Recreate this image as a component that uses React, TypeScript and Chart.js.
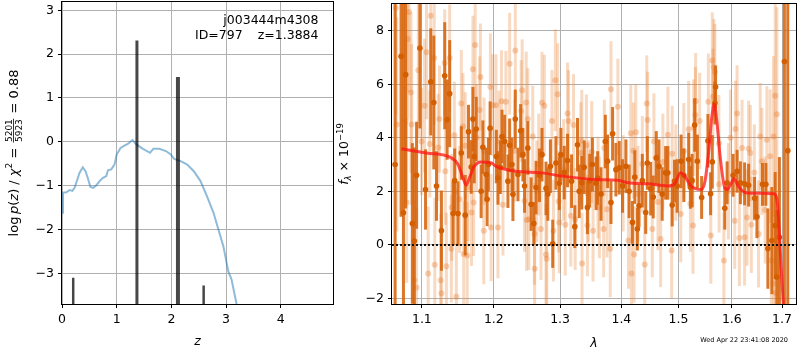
import React, { useEffect, useRef } from "react";
import { Chart, registerables } from "chart.js";
Chart.register(...registerables);

const FONT = "'DejaVu Sans', sans-serif";

// ---------- left panel data ----------
const zGrid = [0, 0.018, 0.08, 0.14, 0.19, 0.23, 0.27, 0.32, 0.38, 0.43, 0.47, 0.52, 0.57, 0.63, 0.69, 0.75, 0.81, 0.84, 0.9, 0.96, 1.0, 1.07, 1.15, 1.21, 1.29, 1.36, 1.48, 1.61, 1.67, 1.78, 1.9, 1.99, 2.05, 2.17, 2.29, 2.41, 2.53, 2.65, 2.77, 2.86, 2.95, 3.04, 3.1, 3.19, 3.25];
const logPz = [-1.62, -1.16, -1.15, -1.1, -1.12, -1.05, -0.9, -0.71, -0.58, -0.67, -0.82, -1.03, -1.05, -0.99, -0.89, -0.82, -0.78, -0.65, -0.63, -0.52, -0.29, -0.14, -0.08, -0.04, 0.04, -0.06, -0.16, -0.25, -0.16, -0.16, -0.21, -0.29, -0.39, -0.44, -0.52, -0.67, -0.89, -1.24, -1.62, -2.0, -2.38, -2.95, -3.14, -3.69, -4.0];
const peakZ = [0.205, 1.37, 2.12, 2.59];
const peakTop = [-3.1, 2.31, 1.48, -3.28];
const peakBase = -10;
const zTicks = [0, 1, 2, 3, 4];
const pzTicks = [-3, -2, -1, 0, 1, 2, 3];
const zRange = [0, 4.955];
const pzRange = [-3.7, 3.19];
const objName = "j003444m4308";
const objId = "ID=797";
const objZ = "z=1.3884";

// ---------- right panel data ----------
const lamTicks = [1.1, 1.2, 1.3, 1.4, 1.5, 1.6, 1.7];
const fluxTicks = [-2, 0, 2, 4, 6, 8];
const lamRange = [1.061, 1.729];
const fluxRange = [-2.21, 9.0];
const zeroLevel = 0;
const stamp = "Wed Apr 22 23:41:08 2020";

const darkLam = [1.065, 1.0727, 1.0758, 1.0787, 1.0874, 1.09, 1.093, 1.0974, 1.1049, 1.1119,
  1.116, 1.1196, 1.1263, 1.1308, 1.1341, 1.1376, 1.1423, 1.1445, 1.1491, 1.1537,
  1.1592, 1.1638, 1.1676, 1.17, 1.1718, 1.1747, 1.1817, 1.1842, 1.1889, 1.1903,
  1.1921, 1.1946, 1.2036, 1.206, 1.2094, 1.2119, 1.2158, 1.2206, 1.2231, 1.2265,
  1.228, 1.2315, 1.2355, 1.2395, 1.2429, 1.2454, 1.2503, 1.2553, 1.2594, 1.2628,
  1.268, 1.2719, 1.2781, 1.2809, 1.2849, 1.2885, 1.2935, 1.2988, 1.3013, 1.3066,
  1.3118, 1.3182, 1.3234, 1.3277, 1.3304, 1.3346, 1.3384, 1.3437, 1.3474, 1.3518,
  1.3579, 1.3605, 1.366, 1.3731, 1.3769, 1.3825, 1.3852, 1.3908, 1.3964, 1.4019,
  1.4077, 1.4132, 1.4188, 1.4229, 1.4273, 1.4302, 1.4359, 1.4418, 1.4446, 1.4505,
  1.455, 1.4603, 1.4651, 1.4708, 1.4769, 1.4809, 1.4887, 1.4928, 1.4976, 1.5048,
  1.5098, 1.5187, 1.5218, 1.525, 1.5297, 1.5347, 1.5426, 1.5544, 1.5594, 1.5626,
  1.5676, 1.5688, 1.5864, 1.5909, 1.6025, 1.6102, 1.6166, 1.6249, 1.6327, 1.6446,
  1.6493, 1.6604, 1.6672, 1.6712, 1.6793, 1.686, 1.6894, 1.6947, 1.7049, 1.7119];
const darkFlux = [3.0, 7.05, 1.2, 6.36, 0.8, 0.14, 2.6, 7.35, 2.07, 6.09,
  5.32, 2.2, 0.53, 6.32, 4.68, 5.65, 1.17, 2.4, 1.17, 3.43,
  1.11, 4.23, 2.91, 4.7, 3.3, 4.33, 2.0, 3.65, 2.63, 1.7,
  3.0, 4.36, 3.3, 2.5, 2.9, 4.05, 3.86, 2.38, 3.72, 3.0,
  1.89, 4.7, 2.63, 4.26, 3.37, 2.2, 3.62, 1.52, 0.8, 2.14,
  2.6, 3.37, 2.11, 1.9, 2.94, 0.04, 3.06, 2.3, 3.37, 2.7,
  3.15, 2.38, 0.68, 3.74, 2.0, 2.32, 2.9, 1.4, 2.4, 3.0,
  2.3, 2.5, 1.9, 3.86, 3.12, 1.58, 4.15, 2.81, 2.88, 2.2,
  2.94, 2.0, 0.84, 2.53, 0.59, 1.46, 2.4, 1.21, 3.06, 2.1,
  1.79, 3.25, 2.94, 1.9, 2.69, 2.69, 1.49, 2.38, 2.2, 3.12,
  2.6, 3.19, 2.15, 2.4, 4.48, 3.12, 1.77, 3.89, 1.91, 3.1,
  5.3, 5.9, 1.37, 2.32, 2.6, 2.75, 2.32, 2.28, 2.23, 1.74,
  1.05, 2.26, 2.26, -0.14, 0.16, 0.72, -1.2, 0.28, 6.85, 3.52];
const darkErr = [12, 6, 9, 5, 3, 3.5, 2, 3, 1.5, 2,
  2.5, 1.3, 1.5, 2, 1.5, 2, 1.2, 1.2, 1.2, 1,
  1.5, 1, 1, 1.2, 1, 1.2, 1, 1, 1, 1,
  1, 1, 1, 1, 1, 1, 1, 1, 1, 1,
  1, 1.1, 1, 1, 1, 1, 1, 1, 0.8, 1,
  1, 1, 1, 1, 1, 0.9, 1, 1, 1, 1,
  1, 1, 0.8, 1, 1, 1, 1, 1, 1, 1,
  1, 1, 1, 1, 1, 0.8, 1, 1, 1, 1,
  1, 1, 0.8, 1, 0.8, 0.8, 1, 0.8, 1, 1,
  0.8, 1, 1, 1, 1, 1, 0.8, 0.8, 1, 1,
  1, 1, 0.8, 1, 1, 1, 0.8, 1, 0.8, 1,
  0.8, 0.8, 0.8, 0.8, 0.8, 0.8, 0.8, 0.8, 0.8, 0.8,
  0.8, 0.8, 0.8, 1.5, 2, 2, 2.5, 3, 12, 10];

const lightLam = [1.0659, 1.0672, 1.0787, 1.08, 1.0813, 1.083, 1.0856, 1.0865, 1.09, 1.093,
  1.0953, 1.0996, 1.1036, 1.1062, 1.1084, 1.1106, 1.1119, 1.1165, 1.1173, 1.1219,
  1.1236, 1.1253, 1.1263, 1.1308, 1.1316, 1.1331, 1.1376, 1.1399, 1.1404, 1.1441,
  1.1454, 1.1468, 1.1513, 1.1537, 1.156, 1.1571, 1.1592, 1.162, 1.163, 1.168,
  1.17, 1.1711, 1.1732, 1.1752, 1.1796, 1.1807, 1.1855, 1.1858, 1.195, 1.196,
  1.1984, 1.2031, 1.206, 1.2075, 1.2111, 1.2133, 1.2176, 1.2231, 1.2306, 1.2315,
  1.2403, 1.2418, 1.2454, 1.2478, 1.2485, 1.2503, 1.2518, 1.2578, 1.2603, 1.2607,
  1.2639, 1.2669, 1.2704, 1.2719, 1.2756, 1.2781, 1.2792, 1.2873, 1.2896, 1.2926,
  1.2962, 1.2977, 1.2988, 1.3056, 1.3082, 1.3118, 1.3134, 1.317, 1.3213, 1.324,
  1.333, 1.3346, 1.335, 1.3421, 1.3437, 1.3453, 1.3507, 1.3529, 1.361, 1.3633,
  1.3703, 1.3714, 1.3759, 1.3813, 1.3825, 1.3941, 1.403, 1.412, 1.416, 1.4171,
  1.4205, 1.4217, 1.4246, 1.4285, 1.4359, 1.4401, 1.4436, 1.445, 1.4533, 1.4562,
  1.4633, 1.468, 1.472, 1.4809, 1.4877, 1.4887, 1.4952, 1.5042, 1.5098, 1.5187,
  1.5218, 1.5266, 1.5279, 1.531, 1.5315, 1.5389, 1.5552, 1.5598, 1.5626, 1.5638,
  1.5657, 1.5675, 1.5751, 1.5755, 1.5846, 1.5934, 1.5973, 1.6056, 1.6069, 1.6102,
  1.6146, 1.6199, 1.6249, 1.6296, 1.6327, 1.6361, 1.6381, 1.644, 1.6525, 1.6558,
  1.6592, 1.6658, 1.6692, 1.6758, 1.678, 1.6826, 1.683, 1.686, 1.6865, 1.6894];
const lightFlux = [8.85, 4.5, 4.63, 1.58, 7.69, 8.7, 5.69, 4.5, -1.32, -1.59,
  6.52, 3.86, 5.2, 7.2, -1.07, 3.77, 8.56, 6.98, -0.74, 3.64,
  4.7, -1.32, -1.81, 6.8, 2.75, -0.8, 6.98, -0.15, 1.4, 4.1,
  1.99, -1.94, 1.7, 5.28, 4.42, -0.35, 3.7, -0.4, 2.14, 1.21,
  6.56, 1.58, 7.47, 4.0, 5.04, 6.27, 0.53, 3.5, 5.9, 0.65,
  5.22, 5.22, 0.65, 3.86, 5.37, 1.5, 5.35, 6.77, 3.52, 7.26,
  5.0, 5.78, 1.64, 5.32, 0.93, 4.7, 0.96, 4.05, 0.41, -0.89,
  2.0, 3.0, 0.59, 5.31, 5.2, -0.36, -0.52, 4.63, 0.53, 6.15,
  5.63, 1.62, 0.84, 2.8, 0.75, 4.91, 4.63, 1.09, 4.48, 0.96,
  3.43, 3.89, -0.7, 3.72, 0.72, 2.0, 3.47, 0.53, 2.14, 1.4,
  0.59, 3.62, 1.33, -0.15, 5.81, 5.16, 2.3, 0.16, 4.17, -1.07,
  3.52, -0.36, 4.21, 1.9, 3.02, -0.73, 5.28, 4.67, 0.59, 3.86,
  1.6, 0.22, 3.1, 4.11, -0.21, 3.4, 2.7, 1.15, 3.5, 4.32,
  1.54, 0.72, 4.38, 4.85, 5.37, 4.63, 5.35, 0.35, 6.89, 5.53,
  6.64, 6.46, 3.8, 2.26, -0.58, 2.0, 4.0, 0.9, 4.33, 4.91,
  0.26, 3.62, 0.28, 1.02, 3.59, 3.43, 0.75, 2.7, 0.41, 4.05,
  3.12, 1.3, 3.93, 3.31, -0.58, 4.05, -1.44, 5.57, -1.79, 4.88];
const lightErr = [4, 4, 3, 3, 3, 3, 3, 3, 3, 3,
  2.5, 2, 2.5, 2.5, 2.5, 2, 2.5, 2.5, 2.5, 2,
  2, 2.5, 2.5, 2, 2, 2, 2, 2, 2, 2,
  2, 2, 2, 2, 2, 2, 2, 2, 2, 2,
  2, 2, 2, 2, 2, 2, 2, 2, 2, 2,
  1.9, 1.9, 1.9, 1.9, 1.9, 1.9, 1.9, 1.9, 1.9, 1.9,
  1.9, 1.9, 1.9, 1.9, 1.9, 1.9, 1.9, 1.9, 1.9, 1.9,
  1.9, 1.9, 1.9, 1.9, 1.9, 1.9, 1.9, 1.9, 1.9, 1.9,
  1.9, 1.9, 1.9, 1.9, 1.9, 1.9, 1.9, 1.9, 1.9, 1.9,
  1.9, 1.9, 1.9, 1.9, 1.9, 1.9, 1.9, 1.9, 1.9, 1.9,
  1.8, 1.8, 1.8, 1.8, 1.8, 1.8, 1.8, 1.8, 1.8, 1.8,
  1.8, 1.8, 1.8, 1.8, 1.8, 1.8, 1.8, 1.8, 1.8, 1.8,
  1.8, 1.8, 1.8, 1.8, 1.8, 1.8, 1.8, 1.8, 1.8, 1.8,
  1.8, 1.8, 1.8, 1.8, 1.8, 1.8, 1.8, 1.8, 1.8, 1.8,
  1.8, 1.8, 1.8, 1.8, 1.8, 1.8, 1.8, 1.8, 1.8, 1.8,
  1.8, 1.8, 1.8, 1.8, 1.8, 1.8, 1.8, 1.8, 2, 2,
  2, 2, 2, 2.5, 2.5, 3, 3, 4, 3, 4];

const modelLam = [1.0732, 1.1058, 1.1399, 1.1491, 1.156, 1.1605, 1.1651, 1.1718, 1.1817, 1.196,
  1.2027, 1.2321, 1.2719, 1.3028, 1.3562, 1.3947, 1.4115, 1.4458, 1.4809, 1.493,
  1.5037, 1.511, 1.523, 1.5414, 1.5489, 1.5571, 1.5614, 1.5664, 1.5713, 1.5778,
  1.5854, 1.5915, 1.5979, 1.6044, 1.6121, 1.6269, 1.6565, 1.6833, 1.69, 1.6947,
  1.6982, 1.7022, 1.706];
const modelFlux = [3.59, 3.43, 3.25, 3.0, 2.5, 2.23, 2.5, 2.93, 3.1, 3.07,
  2.94, 2.75, 2.69, 2.57, 2.44, 2.41, 2.32, 2.28, 2.2, 2.28,
  2.69, 2.57, 2.2, 2.07, 2.38, 3.74, 4.73, 5.25, 4.6, 3.25,
  2.2, 2.07, 2.26, 2.47, 2.2, 1.95, 1.93, 1.91, 1.64, 0.41,
  -0.83, -2.06, -3.2];

// ---------- styles ----------
const stemWidths = [2.5, 3, 4, 2.5];
const GRID = "#b0b0b0";

const fmtNum = (v: number) => (v < 0 ? "\u2212" + Math.abs(v) : String(v));

const errorBars = {
  id: "errorBars",
  beforeDatasetDraw(chart: any, args: any) {
    const ds = chart.data.datasets[args.index];
    if (!ds.errs) return;
    const { ctx, chartArea, scales } = chart;
    ctx.save();
    ctx.beginPath();
    ctx.rect(chartArea.left, chartArea.top, chartArea.width, chartArea.height);
    ctx.clip();
    ctx.strokeStyle = ds.errColor;
    ctx.lineWidth = ds.errWidth;
    ds.data.forEach((p: any, i: number) => {
      const x = scales.x.getPixelForValue(p.x);
      const y1 = scales.y.getPixelForValue(p.y - ds.errs[i]);
      const y2 = scales.y.getPixelForValue(p.y + ds.errs[i]);
      ctx.beginPath();
      ctx.moveTo(x, y1);
      ctx.lineTo(x, y2);
      ctx.stroke();
    });
    ctx.restore();
  },
};

function drawFrame(chart: any) {
  const { ctx, chartArea: a } = chart;
  ctx.save();
  ctx.strokeStyle = "#000";
  ctx.lineWidth = 1;
  ctx.strokeRect(Math.round(a.left) - 0.5, Math.round(a.top) - 0.5, Math.round(a.right - a.left) + 1, Math.round(a.bottom - a.top) + 1);
  ctx.restore();
}

type Seg = { t: string; size: number; italic?: boolean; dy?: number; num?: string; den?: string };
function drawVerticalRich(ctx: CanvasRenderingContext2D, segs: Seg[], baseX: number, centerY: number) {
  const fontOf = (size: number, italic?: boolean) => `${italic ? "italic " : ""}${size}px ${FONT}`;
  const widthOf = (s: Seg) => {
    ctx.font = fontOf(s.size, s.italic);
    if (s.num !== undefined) return Math.max(ctx.measureText(s.num).width, ctx.measureText(s.den!).width) + 3;
    return ctx.measureText(s.t).width;
  };
  ctx.save();
  ctx.translate(baseX, centerY);
  ctx.rotate(-Math.PI / 2);
  ctx.fillStyle = "#000";
  ctx.textBaseline = "alphabetic";
  const total = segs.reduce((a, s) => a + widthOf(s), 0);
  let x = -total / 2;
  for (const s of segs) {
    const w = widthOf(s);
    ctx.font = fontOf(s.size, s.italic);
    if (s.num !== undefined) {
      ctx.textAlign = "center";
      ctx.fillText(s.num, x + w / 2, -5.4);
      ctx.fillText(s.den!, x + w / 2, 4.2);
      ctx.fillRect(x + 1, -4.4, w - 2, 0.8);
      ctx.textAlign = "left";
    } else {
      ctx.textAlign = "left";
      ctx.fillText(s.t, x, s.dy || 0);
    }
    x += w;
  }
  ctx.restore();
}

const leftDecor = {
  id: "leftDecor",
  afterDatasetsDraw(chart: any) {
    drawFrame(chart);
  },
  afterDraw(chart: any) {
    const ctx = chart.ctx as CanvasRenderingContext2D;
    const a = chart.chartArea;
    ctx.save();
    ctx.fillStyle = "#000";
    ctx.font = `12.5px ${FONT}`;
    ctx.textBaseline = "alphabetic";
    ctx.textAlign = "right";
    ctx.fillText(objName, 318.5, 24.2);
    ctx.fillText(objZ, 318.5, 39.3);
    ctx.textAlign = "left";
    ctx.fillText(objId, 195, 39.3);
    ctx.font = `italic 12.5px ${FONT}`;
    ctx.textAlign = "center";
    ctx.fillText("z", (a.left + a.right) / 2, 345);
    ctx.restore();
    drawVerticalRich(ctx, [
      { t: "log\u2009", size: 13 },
      { t: "p", size: 13, italic: true },
      { t: "(", size: 13 },
      { t: "z", size: 13, italic: true },
      { t: ") / ", size: 13 },
      { t: "\u03c7", size: 13, italic: true },
      { t: "2", size: 9, dy: -5.5 },
      { t: " = ", size: 13 },
      { t: "", size: 9, num: "5201", den: "5923" },
      { t: " = 0.88", size: 13 },
    ], 17.5, (a.top + a.bottom) / 2);
  },
};

const rightDecor = {
  id: "rightDecor",
  afterDatasetsDraw(chart: any) {
    const { ctx, chartArea: a, scales } = chart;
    const y = Math.round(scales.y.getPixelForValue(zeroLevel));
    ctx.save();
    ctx.beginPath();
    ctx.rect(a.left, a.top, a.width, a.height);
    ctx.clip();
    ctx.strokeStyle = "#111";
    ctx.lineWidth = 2;
    ctx.setLineDash([2, 2]);
    ctx.beginPath();
    ctx.moveTo(a.left, y);
    ctx.lineTo(a.right, y);
    ctx.stroke();
    ctx.restore();
    drawFrame(chart);
  },
  afterDraw(chart: any) {
    const ctx = chart.ctx as CanvasRenderingContext2D;
    const a = chart.chartArea;
    ctx.save();
    ctx.fillStyle = "#000";
    ctx.font = `italic 12.5px ${FONT}`;
    ctx.textAlign = "center";
    ctx.textBaseline = "alphabetic";
    ctx.fillText("\u03bb", (a.left + a.right) / 2, 346.5);
    ctx.font = `6.5px ${FONT}`;
    ctx.textAlign = "right";
    ctx.fillText(stamp, 453, 342);
    ctx.restore();
    drawVerticalRich(ctx, [
      { t: "f", size: 12.5, italic: true },
      { t: "\u03bb", size: 8.5, italic: true, dy: 3 },
      { t: " \u00d7 10", size: 12.5 },
      { t: "\u221219", size: 8.5, dy: -5.5 },
    ], 13.3, (a.top + a.bottom) / 2);
  },
};

function axisX(min: number, max: number, ticks: number[], type: string, fmt: (v: number) => string, height: number) {
  return {
    type,
    min,
    max,
    afterBuildTicks: (s: any) => { s.ticks = ticks.map((v) => ({ value: v })); },
    afterFit: (s: any) => { s.height = height; s.paddingLeft = 0; s.paddingRight = 0; },
    grid: { color: GRID, lineWidth: 1, tickColor: "#000", tickLength: 4, drawTicks: true },
    border: { display: false },
    ticks: { color: "#000", font: { family: FONT, size: 12.5 }, padding: 4, maxRotation: 0, autoSkip: false, callback: (v: any) => fmt(Number(v)) },
  };
}
function axisY(min: number, max: number, ticks: number[], width: number) {
  return {
    type: "linear",
    min,
    max,
    afterBuildTicks: (s: any) => { s.ticks = ticks.map((v) => ({ value: v })); },
    afterFit: (s: any) => { s.width = width; s.paddingTop = 0; s.paddingBottom = 0; },
    grid: { color: GRID, lineWidth: 1, tickColor: "#000", tickLength: 4, drawTicks: true },
    border: { display: false },
    ticks: { color: "#000", font: { family: FONT, size: 12.5 }, padding: 4, autoSkip: false, callback: (v: any) => fmtNum(Number(v)) },
  };
}

export default function App() {
  const leftRef = useRef<HTMLCanvasElement>(null);
  const rightRef = useRef<HTMLCanvasElement>(null);

  useEffect(() => {
    const stems = peakZ.map((z, i) => ({
      data: [{ x: z, y: peakBase }, { x: z, y: peakTop[i] }],
      showLine: true,
      borderColor: "rgba(0,0,0,0.72)",
      borderWidth: stemWidths[i],
      pointRadius: 0,
      borderCapStyle: "butt",
      clip: 0,
    }));
    const left = new Chart(leftRef.current!, {
      type: "scatter",
      data: {
        datasets: [
          ...stems,
          {
            data: zGrid.map((z, i) => ({ x: z, y: logPz[i] })),
            showLine: true,
            borderColor: "rgba(31,119,180,0.5)",
            borderWidth: 2,
            pointRadius: 0,
            clip: 0,
          },
        ] as any,
      },
      options: {
        responsive: false,
        animation: false,
        devicePixelRatio: 1,
        layout: { padding: { left: 0, right: 7, top: 2, bottom: 0 } },
        plugins: { legend: { display: false }, tooltip: { enabled: false } },
        scales: {
          x: axisX(zRange[0], zRange[1], zTicks, "linear", (v) => String(v), 46) as any,
          y: axisY(pzRange[0], pzRange[1], pzTicks, 62) as any,
        },
      },
      plugins: [leftDecor],
    });

    const right = new Chart(rightRef.current!, {
      type: "scatter",
      data: {
        datasets: [
          {
            data: modelLam.map((l, i) => ({ x: l, y: modelFlux[i] })),
            showLine: true,
            borderColor: "rgba(255,20,20,0.75)",
            borderWidth: 3,
            pointRadius: 0,
            cubicInterpolationMode: "monotone",
            clip: 0,
          },
          {
            data: darkLam.map((l, i) => ({ x: l, y: darkFlux[i] })),
            errs: darkErr,
            errColor: "rgba(214,100,12,0.88)",
            errWidth: 3,
            pointRadius: 2.8,
            pointBackgroundColor: "#d45f00",
            pointBorderWidth: 0,
            clip: 0,
          },
          {
            data: lightLam.map((l, i) => ({ x: l, y: lightFlux[i] })),
            errs: lightErr,
            errColor: "rgba(232,128,50,0.3)",
            errWidth: 3,
            pointRadius: 3,
            pointBackgroundColor: "rgba(232,120,40,0.34)",
            pointBorderWidth: 0,
            clip: 0,
          },
        ] as any,
      },
      options: {
        responsive: false,
        animation: false,
        devicePixelRatio: 1,
        layout: { padding: { left: 0, right: 1, top: 2, bottom: 0 } },
        plugins: { legend: { display: false }, tooltip: { enabled: false } },
        scales: {
          x: axisX(lamRange[0], lamRange[1], lamTicks, "logarithmic", (v) => v.toFixed(1), 46) as any,
          y: axisY(fluxRange[0], fluxRange[1], fluxTicks, 57) as any,
        },
      },
      plugins: [errorBars, rightDecor],
    });

    return () => {
      left.destroy();
      right.destroy();
    };
  }, []);

  return (
    <div style={{ position: "absolute", left: 0, top: 0, width: 800, height: 350, background: "#fff" }}>
      <canvas ref={leftRef} width={340} height={350} style={{ position: "absolute", left: 0, top: 0, width: 340, height: 350 }} />
      <canvas ref={rightRef} width={465} height={350} style={{ position: "absolute", left: 335, top: 0, width: 465, height: 350 }} />
    </div>
  );
}
